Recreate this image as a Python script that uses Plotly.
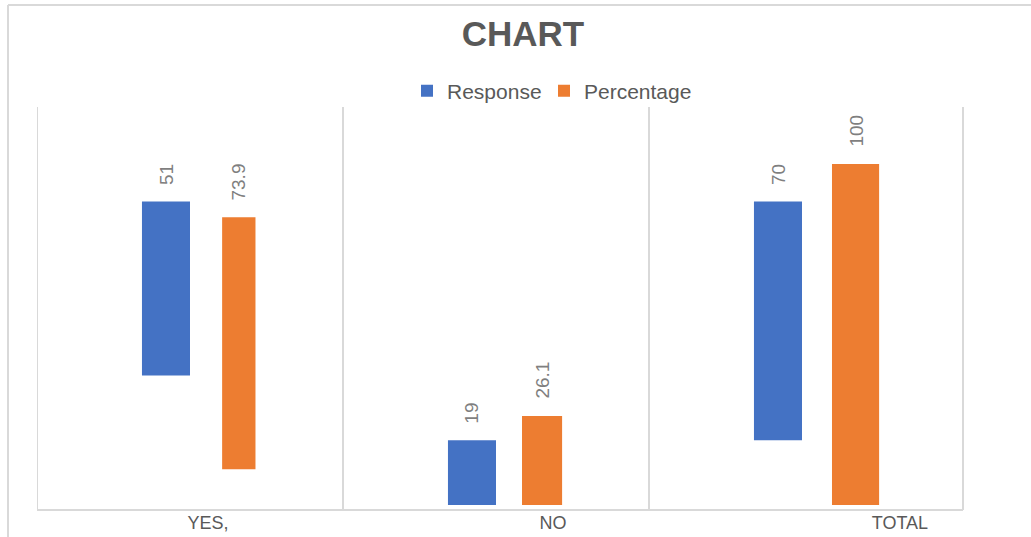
import plotly.graph_objects as go

# ---- data ----
categories = ["YES,", "NO", "TOTAL"]
response = [51, 19, 70]
percentage = [73.9, 26.1, 100]
response_base = [38, 0, 19]
percentage_base = [10.5, 0, 0]
response_labels = ["51", "19", "70"]
percentage_labels = ["73.9", "26.1", "100"]

# ---- layout geometry (pixels of the 1031x537 page) ----
W, H = 1031, 537
L, R, T, B = 37, 963, 107, 510
UNIT = 306.0                      # px per category
x_range = [-0.5, -0.5 + (R - L) / UNIT]
PXY = 3.41                        # px per value unit
y0_px = 505
y_range = [-(B - y0_px) / PXY, (y0_px - T) / PXY]

def px_x(px):
    return (px - L) / (R - L)

def px_y(py):
    return (B - py) / (B - T)

BLUE = "#4472C4"
ORANGE = "#ED7D31"
GRID = "#D9D9D9"
TXT = "#595959"
LBL = "#7F7F7F"
FONT = "Liberation Sans"

resp_offset = [-0.157, -0.157, -0.157]
resp_width = [0.157, 0.157, 0.157]
pct_offset = [0.105, 0.085, 0.098]
pct_width = [0.109, 0.131, 0.154]
tick_shift = [0.059, 0.186, 0.32]

xpos = list(range(len(categories)))

fig = go.Figure()
fig.add_trace(go.Bar(
    name="Response", x=xpos, y=response, base=response_base,
    offset=resp_offset, width=resp_width, legend="legend",
    marker=dict(color=BLUE, line=dict(width=0)),
))
fig.add_trace(go.Bar(
    name="Percentage", x=xpos, y=percentage, base=percentage_base,
    offset=pct_offset, width=pct_width, legend="legend2",
    marker=dict(color=ORANGE, line=dict(width=0)),
))

# data labels (rotated, above each bar)
for i in xpos:
    for vals, base, off, wd, labs in (
        (response, response_base, resp_offset, resp_width, response_labels),
        (percentage, percentage_base, pct_offset, pct_width, percentage_labels),
    ):
        fig.add_annotation(
            x=i + off[i] + wd[i] / 2, y=base[i] + vals[i],
            xref="x", yref="y", text=labs[i], showarrow=False,
            textangle=-90, xanchor="center", yanchor="bottom", yshift=15,
            font=dict(family=FONT, size=19, color=LBL),
        )

shapes = []
# category separators and plot frame
for xv in [-0.5, 0.5, 1.5]:
    shapes.append(dict(type="line", xref="x", yref="paper", x0=xv, x1=xv, y0=0, y1=1,
                       line=dict(color=GRID, width=2)))
shapes.append(dict(type="line", xref="paper", yref="paper", x0=1, x1=1, y0=0, y1=1,
                   line=dict(color=GRID, width=2)))
shapes.append(dict(type="line", xref="paper", yref="paper", x0=0, x1=1, y0=0, y1=0,
                   line=dict(color=GRID, width=2)))
# outer chart border
shapes.append(dict(type="line", xref="paper", yref="paper", x0=px_x(8), x1=px_x(W + 5),
                   y0=px_y(5), y1=px_y(5), line=dict(color=GRID, width=2)))
shapes.append(dict(type="line", xref="paper", yref="paper", x0=px_x(8), x1=px_x(8),
                   y0=px_y(5), y1=px_y(H + 5), line=dict(color=GRID, width=2)))

legend_style = dict(orientation="h", xanchor="left", y=px_y(91), yanchor="middle",
                    xref="paper", yref="paper",
                    font=dict(family=FONT, size=21, color=TXT),
                    bgcolor="rgba(0,0,0,0)")

fig.update_layout(
    width=W, height=H,
    margin=dict(l=L, r=W - R, t=T, b=H - B, autoexpand=False),
    paper_bgcolor="white", plot_bgcolor="white",
    barmode="overlay",
    showlegend=True,
    title=dict(text="<b>CHART</b>", x=px_x(523), xref="paper", xanchor="center",
               y=1 - 34 / H, yref="container", yanchor="middle",
               font=dict(family=FONT, size=35, color=TXT)),
    legend=dict(x=px_x(407), **legend_style),
    legend2=dict(x=px_x(544), **legend_style),
    xaxis=dict(range=x_range, showgrid=False, zeroline=False, showline=False,
               tickmode="array", tickvals=[i + s for i, s in zip(xpos, tick_shift)],
               ticktext=categories, ticks="", automargin=False,
               tickfont=dict(family=FONT, size=18, color=TXT), fixedrange=True),
    yaxis=dict(range=y_range, showgrid=False, zeroline=False, showline=False,
               showticklabels=False, ticks="", automargin=False, fixedrange=True),
    shapes=shapes,
)

fig.write_html("out.html")
